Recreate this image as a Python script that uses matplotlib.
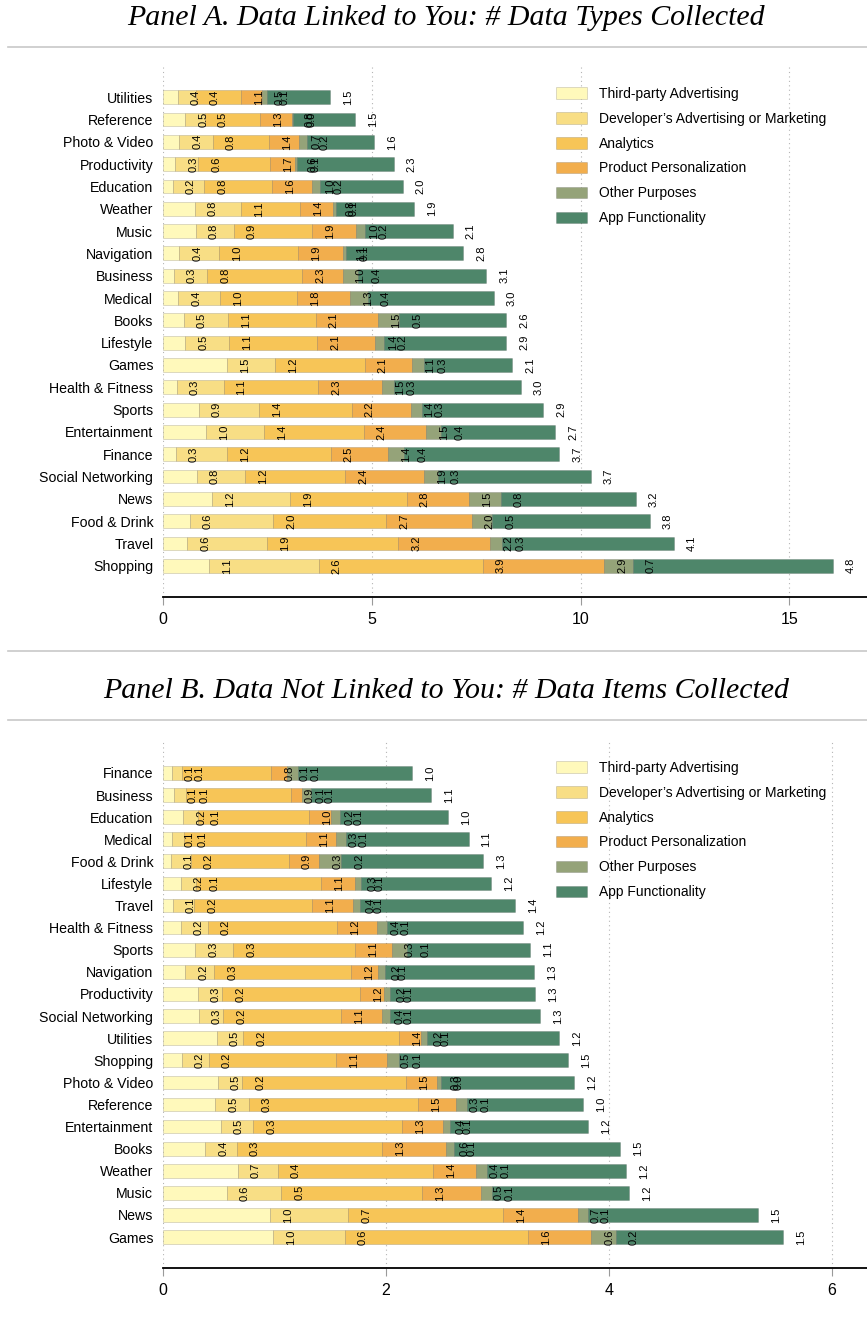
import numpy as np
import matplotlib
matplotlib.use("Agg")
import matplotlib.pyplot as plt
from matplotlib.lines import Line2D

plt.rcParams['font.family'] = ['Liberation Sans', 'DejaVu Sans']

# Purposes (stack order) and colours
purposes = ["Third-party Advertising", "Developer\u2019s Advertising or Marketing",
            "Analytics", "Product Personalization", "Other Purposes", "App Functionality"]
colors = ["#fff9bb", "#f8de85", "#f7c557", "#f2ae4d", "#95a379", "#4e866a"]

# Panel A: data linked to you, # data types (top to bottom)
cats_a = ["Utilities", "Reference", "Photo & Video", "Productivity", "Education", "Weather",
          "Music", "Navigation", "Business", "Medical", "Books", "Lifestyle", "Games",
          "Health & Fitness", "Sports", "Entertainment", "Finance", "Social Networking",
          "News", "Food & Drink", "Travel", "Shopping"]
third_a = [0.36, 0.53, 0.39, 0.29, 0.23, 0.76, 0.78, 0.39, 0.26, 0.37, 0.5, 0.53, 1.53,
           0.33, 0.86, 1.04, 0.3, 0.81, 1.18, 0.64, 0.58, 1.1]
dev_a = [0.44, 0.47, 0.8, 0.56, 0.76, 1.12, 0.91, 0.96, 0.8, 1.0, 1.06, 1.06, 1.16,
         1.12, 1.44, 1.37, 1.24, 1.16, 1.87, 2.0, 1.9, 2.63]
ana_a = [1.07, 1.32, 1.36, 1.71, 1.62, 1.41, 1.89, 1.89, 2.28, 1.83, 2.1, 2.11, 2.14,
         2.26, 2.22, 2.4, 2.48, 2.4, 2.79, 2.71, 3.16, 3.93]
pers_a = [0.49, 0.76, 0.7, 0.6, 0.97, 0.78, 1.04, 1.08, 0.96, 1.28, 1.5, 1.38, 1.14,
          1.53, 1.41, 1.5, 1.36, 1.89, 1.48, 2.04, 2.2, 2.91]
other_a = [0.12, 0.04, 0.2, 0.06, 0.19, 0.07, 0.22, 0.07, 0.38, 0.42, 0.5, 0.22, 0.29,
           0.29, 0.27, 0.36, 0.4, 0.32, 0.77, 0.5, 0.29, 0.68]
app_a = [1.52, 1.49, 1.6, 2.31, 1.97, 1.88, 2.1, 2.8, 3.06, 3.02, 2.56, 2.92, 2.1,
         3.04, 2.9, 2.72, 3.71, 3.67, 3.23, 3.77, 4.1, 4.8]

# Panel B: data not linked to you, # data items (top to bottom)
cats_b = ["Finance", "Business", "Education", "Medical", "Food & Drink", "Lifestyle", "Travel",
          "Health & Fitness", "Sports", "Navigation", "Productivity", "Social Networking",
          "Utilities", "Shopping", "Photo & Video", "Reference", "Entertainment", "Books",
          "Weather", "Music", "News", "Games"]
third_b = [0.08, 0.1, 0.18, 0.08, 0.07, 0.16, 0.09, 0.16, 0.29, 0.2, 0.31, 0.32, 0.48,
           0.17, 0.49, 0.47, 0.52, 0.38, 0.67, 0.57, 0.96, 0.99]
dev_b = [0.09, 0.11, 0.13, 0.11, 0.18, 0.14, 0.19, 0.24, 0.34, 0.26, 0.22, 0.22, 0.24,
         0.24, 0.22, 0.3, 0.29, 0.28, 0.36, 0.49, 0.7, 0.64]
ana_b = [0.8, 0.94, 1.0, 1.09, 0.88, 1.12, 1.06, 1.16, 1.09, 1.23, 1.24, 1.06, 1.4,
         1.14, 1.47, 1.52, 1.33, 1.3, 1.39, 1.26, 1.39, 1.64]
pers_b = [0.14, 0.1, 0.2, 0.27, 0.27, 0.3, 0.36, 0.36, 0.33, 0.24, 0.21, 0.36, 0.19,
          0.46, 0.28, 0.34, 0.37, 0.58, 0.39, 0.53, 0.67, 0.57]
other_b = [0.1, 0.08, 0.08, 0.09, 0.2, 0.06, 0.07, 0.09, 0.14, 0.06, 0.06, 0.08, 0.06,
           0.11, 0.03, 0.1, 0.06, 0.07, 0.1, 0.1, 0.09, 0.22]
app_b = [1.02, 1.07, 0.97, 1.1, 1.27, 1.16, 1.39, 1.22, 1.1, 1.34, 1.3, 1.34, 1.18,
         1.51, 1.2, 1.04, 1.24, 1.49, 1.24, 1.23, 1.53, 1.5]

W, H = 867, 1321
fig = plt.figure(figsize=(W / 100, H / 100), dpi=100)


def fx(px):
    return px / W


def fy(py):
    return 1 - py / H


def draw_panel(ax, cats, series, xmax, ticks, legend_top):
    n = len(cats)
    y = np.arange(n)[::-1]  # first category at the top
    left = np.zeros(n)
    for vals, col, lab in zip(series, colors, purposes):
        vals = np.array(vals)
        ax.barh(y, vals, left=left, height=0.62, color=col,
                edgecolor=(0, 0, 0, 0.16), linewidth=0.6, label=lab, zorder=2)
        ends = left + vals
        # value label just right of each segment's end, rotated
        for yy, xe, v in zip(y, ends, vals):
            ax.annotate(f"{v:.1f}", (xe, yy), xytext=(13, 0), textcoords="offset points",
                        rotation=90, ha="center", va="center", fontsize=8, zorder=3)
        left = ends

    ax.set_xlim(0, xmax)
    ax.set_ylim(-1.4, n - 1 + 1.4)
    ax.set_yticks(y)
    ax.set_yticklabels(cats, fontsize=10.2)
    ax.tick_params(axis="y", length=0, pad=7)
    ax.set_xticks(ticks)
    ax.set_xticklabels([str(t) for t in ticks], fontsize=11.5)
    ax.tick_params(axis="x", direction="out", length=5.5, width=0.8, color="#9a9a9a", pad=5)
    for t in ticks:
        ax.axvline(t, color="#b5b5b5", linewidth=0.8, linestyle=(0, (1, 3)), zorder=1)
    for s in ["top", "right", "left"]:
        ax.spines[s].set_visible(False)
    ax.spines["bottom"].set_linewidth(1.3)

    ax.legend(loc="upper left", bbox_to_anchor=(fx(556), fy(legend_top)),
              bbox_transform=fig.transFigure, frameon=False, fontsize=10,
              handlelength=2.2, handleheight=0.9, handletextpad=0.9,
              labelspacing=0.78, borderpad=0, borderaxespad=0)


series_a = [third_a, dev_a, ana_a, pers_a, other_a, app_a]
series_b = [third_b, dev_b, ana_b, pers_b, other_b, app_b]

ax_a = fig.add_axes([fx(163), fy(597), 1 - fx(163), fy(66) - fy(597)])
draw_panel(ax_a, cats_a, series_a, (W - 163) / 41.75, [0, 5, 10, 15], 87)

ax_b = fig.add_axes([fx(163), fy(1268), 1 - fx(163), fy(742) - fy(1268)])
draw_panel(ax_b, cats_b, series_b, (W - 163) / 111.5, [0, 2, 4, 6], 761)

# panel titles and separator rules
title_kw = dict(ha="center", va="center", fontsize=21.5, style="italic",
                family=["Liberation Serif", "DejaVu Serif"])
fig.text(fx(446), fy(18), "Panel A. Data Linked to You: # Data Types Collected", **title_kw)
fig.text(fx(446), fy(691), "Panel B. Data Not Linked to You: # Data Items Collected", **title_kw)
for py in [47, 651, 720]:
    fig.add_artist(Line2D([fx(8), 1], [fy(py), fy(py)], color="#c8c8c8", linewidth=1.2))

fig.savefig("out.png", dpi=100)
